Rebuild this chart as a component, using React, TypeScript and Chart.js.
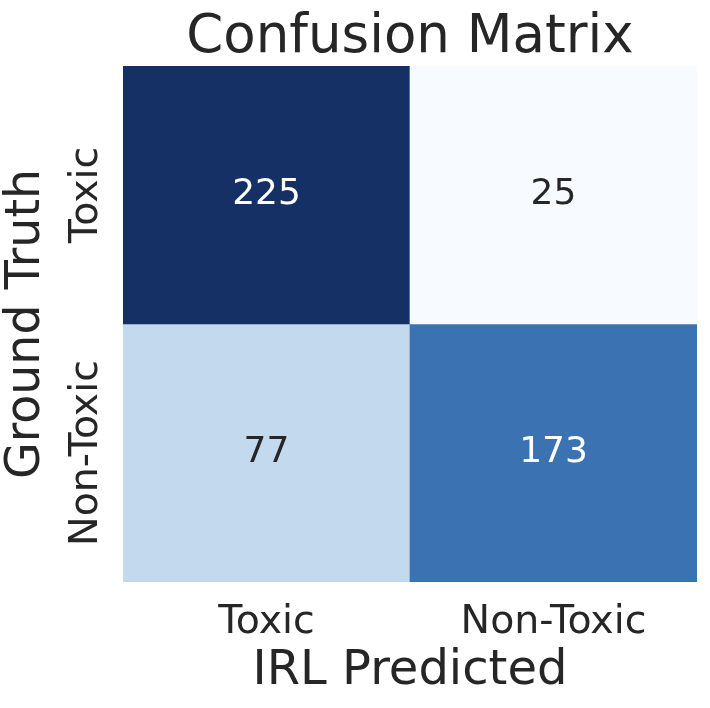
import React, { useEffect, useRef } from 'react';
import { Chart, registerables } from 'chart.js';

Chart.register(...registerables);

const predictedLabels = ['Toxic', 'Non-Toxic'];
const truthLabels = ['Toxic', 'Non-Toxic'];
const truthToxicRow = [225, 25];
const truthNonToxicRow = [77, 173];
const matrixRows = [truthToxicRow, truthNonToxicRow];
const chartTitle = 'Confusion Matrix';
const xAxisTitle = 'IRL Predicted';
const yAxisTitle = 'Ground Truth';
const bluesStops = ['#f7fbff', '#deebf7', '#c6dbef', '#9ecae1', '#6baed6', '#4a8ac4', '#3a71b0', '#1f4d8a', '#143064'];

const FONT = "'DejaVu Sans', sans-serif";
const TEXT_DARK = '#262626';

function hexToRgb(h: string): number[] {
  const n = parseInt(h.slice(1), 16);
  return [(n >> 16) & 255, (n >> 8) & 255, n & 255];
}

function blues(t: number): number[] {
  const c = Math.max(0, Math.min(1, t)) * (bluesStops.length - 1);
  const i = Math.min(Math.floor(c), bluesStops.length - 2);
  const f = c - i;
  const a = hexToRgb(bluesStops[i]);
  const b = hexToRgb(bluesStops[i + 1]);
  return a.map((v, k) => Math.round(v + (b[k] - v) * f));
}

function luminance(rgb: number[]): number {
  const lin = rgb.map((v) => {
    const s = v / 255;
    return s <= 0.03928 ? s / 12.92 : Math.pow((s + 0.055) / 1.055, 2.4);
  });
  return 0.2126 * lin[0] + 0.7152 * lin[1] + 0.0722 * lin[2];
}

const allValues = matrixRows.flat();
const vmin = Math.min(...allValues);
const vmax = Math.max(...allValues);
const cellRgb = (v: number) => blues((v - vmin) / (vmax - vmin));

export default function App() {
  const ref = useRef<HTMLCanvasElement | null>(null);

  useEffect(() => {
    if (!ref.current) return;

    const cellText = {
      id: 'cellText',
      afterDatasetsDraw(chart: any) {
        const ctx = chart.ctx;
        ctx.save();
        ctx.font = `36px ${FONT}`;
        ctx.textAlign = 'center';
        ctx.textBaseline = 'alphabetic';
        matrixRows.forEach((row, i) => {
          const meta = chart.getDatasetMeta(i);
          row.forEach((v, j) => {
            const el = meta.data[j];
            const p = el.getCenterPoint();
            const rgb = cellRgb(v);
            ctx.fillStyle = luminance(rgb) > 0.408 ? TEXT_DARK : '#ffffff';
            ctx.fillText(String(v), p.x, p.y + 9);
          });
        });
        ctx.restore();
      },
    };

    const extraText = {
      id: 'extraText',
      afterDraw(chart: any) {
        const ctx = chart.ctx;
        const ys = chart.scales.y;
        const area = chart.chartArea;
        ctx.save();
        ctx.fillStyle = TEXT_DARK;
        ctx.textAlign = 'center';
        ctx.textBaseline = 'alphabetic';
        // chart title centred over the plot area
        ctx.font = `53px ${FONT}`;
        ctx.fillText(chartTitle, (area.left + area.right) / 2, area.top - 14);
        // rotated row labels
        ctx.font = `39.5px ${FONT}`;
        truthLabels.forEach((lab, i) => {
          const y = ys.getPixelForValue(i + 0.5);
          ctx.save();
          ctx.translate(ys.right - 26, y);
          ctx.rotate(-Math.PI / 2);
          ctx.fillText(lab, 0, 0);
          ctx.restore();
        });
        ctx.restore();
      },
    };

    const chart = new Chart(ref.current, {
      type: 'bar',
      data: {
        labels: predictedLabels,
        datasets: matrixRows.map((row, i) => ({
          label: truthLabels[i],
          data: row.map(() => [i, i + 1]) as any,
          backgroundColor: row.map((v) => {
            const c = cellRgb(v);
            return `rgb(${c[0]},${c[1]},${c[2]})`;
          }),
          borderWidth: 0,
          borderSkipped: false,
          barPercentage: 1,
          categoryPercentage: 1,
          grouped: false,
        })),
      },
      options: {
        responsive: false,
        animation: false,
        layout: { padding: { left: 0, right: 13, top: 66, bottom: 0 } },
        plugins: {
          legend: { display: false },
          tooltip: { enabled: false },
          title: { display: false },
        },
        scales: {
          x: {
            type: 'category',
            grid: { display: false },
            border: { display: false },
            ticks: {
              color: TEXT_DARK,
              font: { family: FONT, size: 39.5, lineHeight: 1.2 },
              padding: 9,
              maxRotation: 0,
            },
            title: {
              display: true,
              text: xAxisTitle,
              color: TEXT_DARK,
              font: { family: FONT, size: 48, lineHeight: 1.2 },
              padding: { top: 0, bottom: 8 },
            },
            afterFit(scale: any) {
              scale.height = 126;
            },
          },
          y: {
            type: 'linear',
            min: 0,
            max: truthLabels.length,
            reverse: true,
            grid: { display: false },
            border: { display: false },
            ticks: { display: false },
            title: {
              display: true,
              text: yAxisTitle,
              color: TEXT_DARK,
              font: { family: FONT, size: 47.5, lineHeight: 1 },
              padding: { top: 3, bottom: 0 },
            },
            afterFit(scale: any) {
              scale.width = 123;
            },
          },
        },
      },
      plugins: [cellText, extraText],
    });

    return () => chart.destroy();
  }, []);

  return (
    <div style={{ position: 'absolute', left: 0, top: 0, width: 710, height: 708, background: '#ffffff' }}>
      <canvas ref={ref} width={710} height={708} style={{ display: 'block', width: 710, height: 708 }} />
    </div>
  );
}
